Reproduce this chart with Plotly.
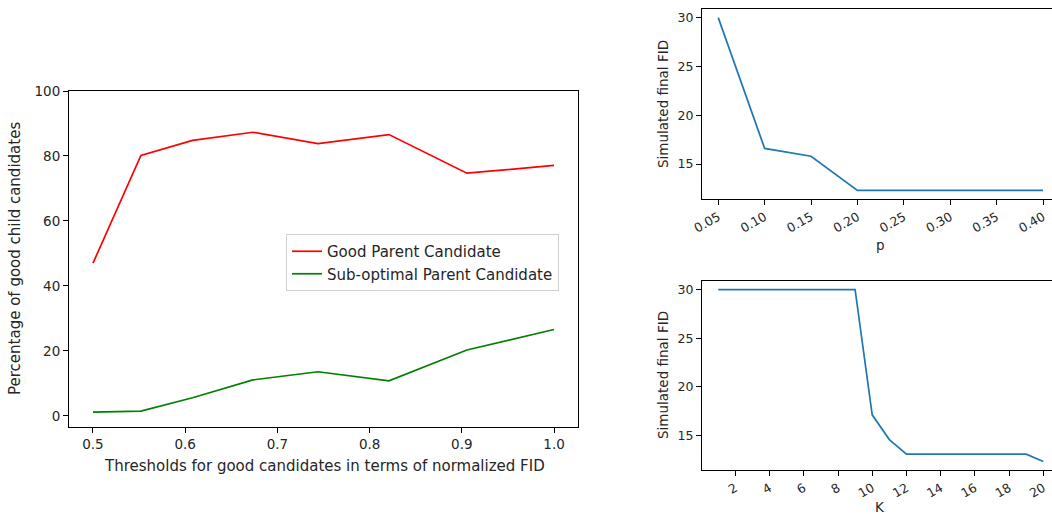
import plotly.graph_objects as go

# ---- data ----
thresholds = [0.5, 0.552, 0.608, 0.6735, 0.744, 0.821, 0.9055, 1.0]
good_parent = [47.0, 80.2, 84.8, 87.3, 83.8, 86.6, 74.7, 77.1]
subopt_parent = [1.2, 1.5, 5.6, 11.1, 13.6, 10.8, 20.3, 26.6]

p_values = [0.05, 0.10, 0.15, 0.20, 0.25, 0.30, 0.35, 0.40]
fid_p = [30.0, 16.6, 15.8, 12.3, 12.3, 12.3, 12.3, 12.3]

k_values = list(range(1, 21))
fid_k = [30.0, 30.0, 30.0, 30.0, 30.0, 30.0, 30.0, 30.0, 30.0,
         17.1, 14.55, 13.05, 13.05, 13.05, 13.05, 13.05, 13.05, 13.05, 13.05, 12.3]

left_xticks = [0.5, 0.6, 0.7, 0.8, 0.9, 1.0]
left_xticklabels = ["0.5", "0.6", "0.7", "0.8", "0.9", "1.0"]
left_yticks = [0, 20, 40, 60, 80, 100]
p_ticks = [0.05, 0.10, 0.15, 0.20, 0.25, 0.30, 0.35, 0.40]
p_ticklabels = ["0.05", "0.10", "0.15", "0.20", "0.25", "0.30", "0.35", "0.40"]
k_ticks = [2, 4, 6, 8, 10, 12, 14, 16, 18, 20]
fid_ticks = [15, 20, 25, 30]

W, H = 1052, 514
FONT = "DejaVu Sans"
TXT = "#262626"

fig = go.Figure()
fig.add_trace(go.Scatter(x=thresholds, y=good_parent, mode="lines", name="Good Parent Candidate",
                         line=dict(color="#ff0000", width=1.7), xaxis="x", yaxis="y"))
fig.add_trace(go.Scatter(x=thresholds, y=subopt_parent, mode="lines", name="Sub-optimal Parent Candidate",
                         line=dict(color="#008000", width=1.7), xaxis="x", yaxis="y"))
fig.add_trace(go.Scatter(x=p_values, y=fid_p, mode="lines", showlegend=False,
                         line=dict(color="#1f77b4", width=1.7), xaxis="x2", yaxis="y2"))
fig.add_trace(go.Scatter(x=k_values, y=fid_k, mode="lines", showlegend=False,
                         line=dict(color="#1f77b4", width=1.7), xaxis="x3", yaxis="y3"))

def px_x(v):
    return v / W

def px_y(v):
    return 1 - v / H

axis_common = dict(showgrid=False, zeroline=False, showline=True, linecolor="black", linewidth=1,
                   ticks="outside", ticklen=5, tickcolor="black", tickwidth=1, automargin=False,
                   tickfont=dict(family=FONT, size=13.5, color=TXT))
small_common = dict(axis_common, tickfont=dict(family=FONT, size=12.5, color=TXT))

fig.update_layout(
    width=W, height=H,
    margin=dict(l=0, r=0, t=0, b=0, autoexpand=False),
    paper_bgcolor="white", plot_bgcolor="white",
    font=dict(family=FONT, color=TXT),
    xaxis=dict(axis_common, domain=[px_x(69), px_x(578)], range=[0.474, 1.026],
               tickvals=left_xticks, ticktext=left_xticklabels, mirror=True, anchor="y"),
    yaxis=dict(axis_common, domain=[px_y(427), px_y(91)], range=[-3.4, 100],
               tickvals=left_yticks, mirror=True, anchor="x"),
    xaxis2=dict(small_common, domain=[px_x(702), 1.0], range=[0.0325, 0.4097],
                tickvals=p_ticks, ticktext=p_ticklabels, tickangle=-30, mirror=True, anchor="y2"),
    yaxis2=dict(small_common, domain=[px_y(199), px_y(9)], range=[11.415, 30.885],
                tickvals=fid_ticks, mirror=False, anchor="x2"),
    xaxis3=dict(small_common, domain=[px_x(702), 1.0], range=[0.05, 20.51],
                tickvals=k_ticks, tickangle=-30, mirror=True, anchor="y3"),
    yaxis3=dict(small_common, domain=[px_y(470), px_y(281)], range=[11.415, 30.885],
                tickvals=fid_ticks, mirror=False, anchor="x3"),
    legend=dict(x=px_x(286), y=px_y(234), xanchor="left", yanchor="top",
                bgcolor="white", bordercolor="#d0d0d0", borderwidth=1,
                font=dict(family=FONT, size=15, color=TXT), tracegroupgap=0),
    showlegend=True,
)

annots = [
    dict(text="Percentage of good child candidates", x=px_x(15), y=px_y(259), textangle=-90, size=15),
    dict(text="Thresholds for good candidates in terms of normalized FID", x=px_x(324), y=px_y(466), textangle=0, size=15),
    dict(text="Simulated final FID", x=px_x(663), y=px_y(104), textangle=-90, size=13.5),
    dict(text="p", x=px_x(880), y=px_y(245), textangle=0, size=13.5),
    dict(text="Simulated final FID", x=px_x(663), y=px_y(375), textangle=-90, size=13.5),
    dict(text="K", x=px_x(880), y=px_y(507), textangle=0, size=13.5),
]
for a in annots:
    fig.add_annotation(text=a["text"], x=a["x"], y=a["y"], xref="paper", yref="paper",
                       showarrow=False, textangle=a["textangle"], xanchor="center", yanchor="middle",
                       font=dict(family=FONT, size=a["size"], color=TXT))

fig.write_html("out.html")
